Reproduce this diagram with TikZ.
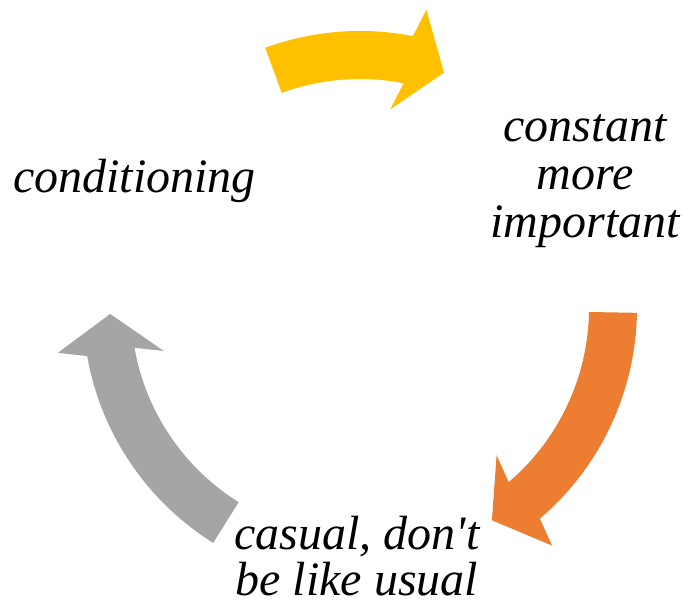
\documentclass[tikz,border=0pt]{standalone}
\usepackage{fontspec}
\setmainfont{Liberation Serif}
\usetikzlibrary{calc}

\definecolor{cycyellow}{HTML}{FFC000}
\definecolor{cycorange}{HTML}{ED7D31}
\definecolor{cycgray}{HTML}{A5A5A5}

\begin{document}
\begin{tikzpicture}[x=1pt, y=1pt, label text/.style={font=\fontsize{48}{48}\selectfont\itshape, align=center, inner sep=0pt, anchor=base}]
\useasboundingbox (0,0) rectangle (683,605);
\coordinate (C) at (360,297);
% curved block arrows round the centre
\foreach \col/\a/\b in {cycyellow/110/79, cycorange/-1/-49.5, cycgray/-122/-170}{
    \fill[\col] ($(C)+(\a:277)$) arc[start angle=\a, end angle=\b, radius=277]
        -- ($(C)+(\b:253)+(\b-9:53)$) -- ($(C)+(\b:253)+(\b-99:38)$)
        -- ($(C)+(\b:253)+(\b+171:53)$) -- ($(C)+(\b:229)$)
        arc[start angle=\b, end angle=\a, radius=229] -- cycle;}
% texts, base is the last line
\node[label text] (cond) at (134.5,412) {conditioning};
\node[label text] (const) at (585,367) {constant\\more\\important};
\node[label text, font=\fontsize{48}{46}\selectfont\itshape] (casual) at (357,9) {casual, don\textquotesingle t\\be like usual};
\end{tikzpicture}
\end{document}
